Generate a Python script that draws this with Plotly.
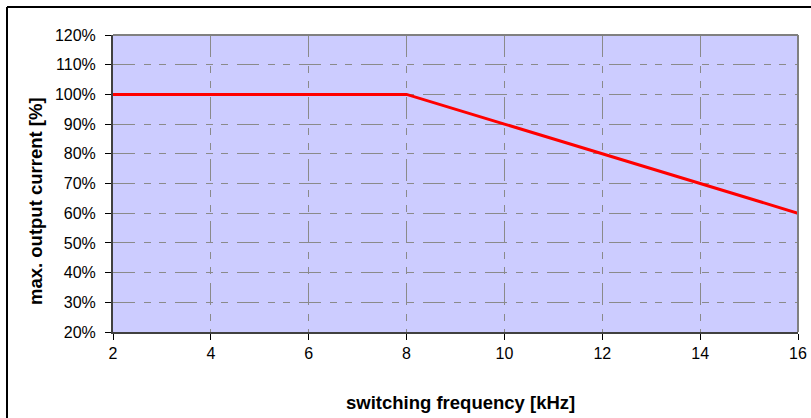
import plotly.graph_objects as go

# Derating curve: max. output current vs. switching frequency
freq_khz = [2, 4, 6, 8, 10, 12, 14, 16]
current_pct = [100, 100, 100, 100, 90, 80, 70, 60]

x_ticks = [2, 4, 6, 8, 10, 12, 14, 16]
y_ticks = [20, 30, 40, 50, 60, 70, 80, 90, 100, 110, 120]
y_tick_labels = [f"{v}%" for v in y_ticks]

W, H = 811, 418
ML, MR, MT, MB = 113, 13, 35, 86
PW, PH = W - ML - MR, H - MT - MB

grid_dash = "22px,9px,7px,8px,7px,9px"
font = "Liberation Sans, Arial, sans-serif"


def px_x(px):
    return (px - ML) / PW


def px_y(py):
    return (H - MB - py) / PH


fig = go.Figure()
fig.add_trace(go.Scatter(
    x=freq_khz, y=current_pct, mode="lines",
    line=dict(color="#ff0000", width=3),
    hoverinfo="skip", showlegend=False, cliponaxis=False,
))

axis_common = dict(
    showgrid=True, gridcolor="#8a8a8a", gridwidth=1, griddash=grid_dash,
    showline=True, linecolor="#404040", linewidth=2,
    ticks="outside", ticklen=6, tickcolor="#000000", tickwidth=1,
    zeroline=False, automargin=False,
    tickfont=dict(size=16, family=font, color="black"),
)

fig.update_layout(
    width=W, height=H, autosize=False,
    margin=dict(l=ML, r=MR, t=MT, b=MB, pad=0, autoexpand=False),
    paper_bgcolor="white",
    plot_bgcolor="#ccccff",
    font=dict(family=font, size=16, color="black"),
    xaxis=dict(range=[2, 16], tickvals=x_ticks,
               ticktext=[str(v) for v in x_ticks], **axis_common),
    yaxis=dict(range=[20, 120], tickvals=y_ticks, ticktext=y_tick_labels,
               ticklabelstandoff=6, **axis_common),
)

# Axis titles
fig.add_annotation(text="<b>switching frequency [kHz]</b>", xref="paper", yref="paper",
                   x=px_x(461), y=px_y(402), xanchor="center", yanchor="middle",
                   showarrow=False, font=dict(size=18.5, family=font, color="black"))
fig.add_annotation(text="<b>max. output current [%]</b>", xref="paper", yref="paper",
                   x=px_x(35), y=px_y(201), xanchor="center", yanchor="middle",
                   textangle=-90, showarrow=False,
                   font=dict(size=18.5, family=font, color="black"))

# Plot-area frame (top and right edges)
fig.add_shape(type="line", xref="paper", yref="paper", x0=0, x1=1, y0=1, y1=1,
              line=dict(color="#808080", width=2), layer="above")
fig.add_shape(type="line", xref="paper", yref="paper", x0=1, x1=1, y0=0, y1=1,
              line=dict(color="#808080", width=2), layer="above")

# Outer chart border (top and left edges)
fig.add_shape(type="line", xref="paper", yref="paper", x0=px_x(7), x1=px_x(W + 5),
              y0=px_y(7), y1=px_y(7), line=dict(color="#000000", width=2))
fig.add_shape(type="line", xref="paper", yref="paper", x0=px_x(7), x1=px_x(7),
              y0=px_y(7), y1=px_y(H + 5), line=dict(color="#000000", width=2))

fig.write_html("out.html")
